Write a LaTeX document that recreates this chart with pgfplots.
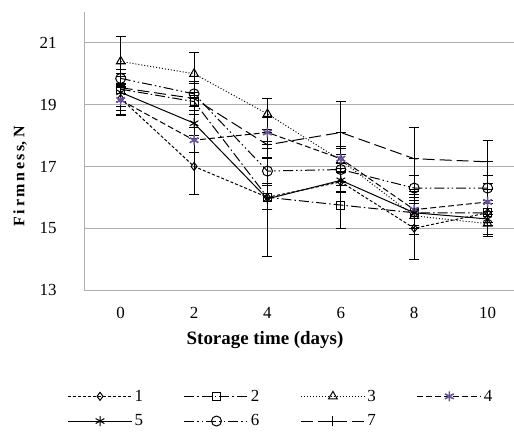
\documentclass[border=0pt]{standalone}
\usepackage{fontspec}
\setmainfont{Liberation Serif}
\usepackage{pgfplots}
\pgfplotsset{compat=1.18}
\definecolor{purp}{RGB}{105,85,150}
\definecolor{gridc}{RGB}{175,175,175}

\begin{document}
\begin{tikzpicture}
\useasboundingbox (0,0) rectangle (514bp,434bp);
\begin{axis}[
  at={(84bp,144bp)}, anchor=south west,
  scale only axis, width=430bp, height=278bp,
  xmin=-0.5, xmax=5.36, ymin=13, ymax=22,
  xtick={0,1,2,3,4,5}, xticklabels={0,2,4,6,8,10},
  ytick={13,15,17,19,21},
  ymajorgrids, grid style={gridc, line width=1pt},
  axis x line*=bottom, axis y line*=left,
  axis line style={gridc, line width=1pt, -},
  major tick length=0pt,
  tick label style={font=\fontsize{17}{17}\selectfont},
  /pgf/number format/assume math mode=true,
  yticklabel style={xshift=-24bp},
  xticklabel style={yshift=-14bp},
  every axis plot/.append style={line width=1pt},
  legend columns=4,
  legend style={at={(0.458,-0.427)}, anchor=center, draw=none, fill=none,
    font=\fontsize{17}{17}\selectfont, row sep=8bp,
    /tikz/every even column/.append style={column sep=39bp}},
  legend image code/.code={\draw[mark repeat=2, mark phase=2, #1]
    plot coordinates {(0bp,0bp)(32bp,0bp)(64bp,0bp)};},
  error bars/y dir=both, error bars/y explicit,
  error bars/error bar style={black, solid, line width=0.8pt},
  error bars/error mark options={rotate=90, mark size=5bp, black, solid, line width=0.8pt},
  clip=false,
]
\addplot[black, dash pattern=on 3pt off 2pt, mark=diamond, mark size=4bp, mark options={solid}]
  coordinates {(0,19.2)+-(0,0.5) (1,17.0)+-(0,0.9) (2,16.0)+-(0,0.4)
               (3,16.5)+-(0,0.3) (4,15.0)+-(0,1.0) (5,15.5)+-(0,0.3)};
\addlegendentry{1}
\addplot[black, dash pattern=on 10pt off 3pt on 1.5pt off 3pt, mark=square, mark size=4bp, mark options={solid}]
  coordinates {(0,19.5)+-(0,0.4) (1,19.1)+-(0,0.3) (2,16.0)+-(0,0.4)
               (3,15.75)+-(0,0.75) (4,15.5)+-(0,0.4) (5,15.5)+-(0,0.4)};
\addlegendentry{2}
\addplot[black, dotted, mark=triangle, mark size=5bp, mark options={solid}]
  coordinates {(0,20.4)+-(0,0.8) (1,20.0)+-(0,0.7) (2,18.7)+-(0,0.5)
               (3,17.2)+-(0,0.4) (4,15.4)+-(0,0.4) (5,15.15)+-(0,0.4)};
\addlegendentry{3}
\addplot[black, dash pattern=on 6pt off 3pt, mark=asterisk, mark size=5bp, mark options={solid, purp, line width=1.6pt}]
  coordinates {(0,19.15)+-(0,0.5) (1,17.85)+-(0,0.4) (2,18.1)+-(0,0.5)
               (3,17.25)+-(0,0.4) (4,15.6)+-(0,0.5) (5,15.85)+-(0,0.4)};
\addlegendentry{4}
\addplot[black, solid, mark=asterisk, mark size=5bp]
  coordinates {(0,19.4)+-(0,0.6) (1,18.4)+-(0,0.4) (2,15.95)+-(0,1.85)
               (3,16.55)+-(0,0.4) (4,15.5)+-(0,0.7) (5,15.3)+-(0,0.5)};
\addlegendentry{5}
\addplot[black, dash pattern=on 10pt off 3pt on 1.5pt off 3pt on 1.5pt off 3pt, mark=o, mark size=5bp, mark options={solid}]
  coordinates {(0,19.85)+-(0,0.5) (1,19.35)+-(0,0.4) (2,16.85)+-(0,0.4)
               (3,16.9)+-(0,0.5) (4,16.3)+-(0,0.4) (5,16.3)+-(0,0.4)};
\addlegendentry{6}
\addplot[black, dash pattern=on 12pt off 5pt, mark=+, mark size=5bp, mark options={solid}]
  coordinates {(0,19.55)+-(0,0.6) (1,19.2)+-(0,0.5) (2,17.7)+-(0,0.4)
               (3,18.1)+-(0,1.0) (4,17.25)+-(0,1.0) (5,17.15)+-(0,0.7)};
\addlegendentry{7}
\end{axis}
\node[rotate=90, font=\bfseries\fontsize{16}{16}\selectfont] at (20bp,258bp) {F\,i\,r\,m\,n\,e\,s\,s, N};
\node[font=\bfseries\fontsize{19}{19}\selectfont] at (265bp,94bp) {Storage time (days)};
\end{tikzpicture}
\end{document}
